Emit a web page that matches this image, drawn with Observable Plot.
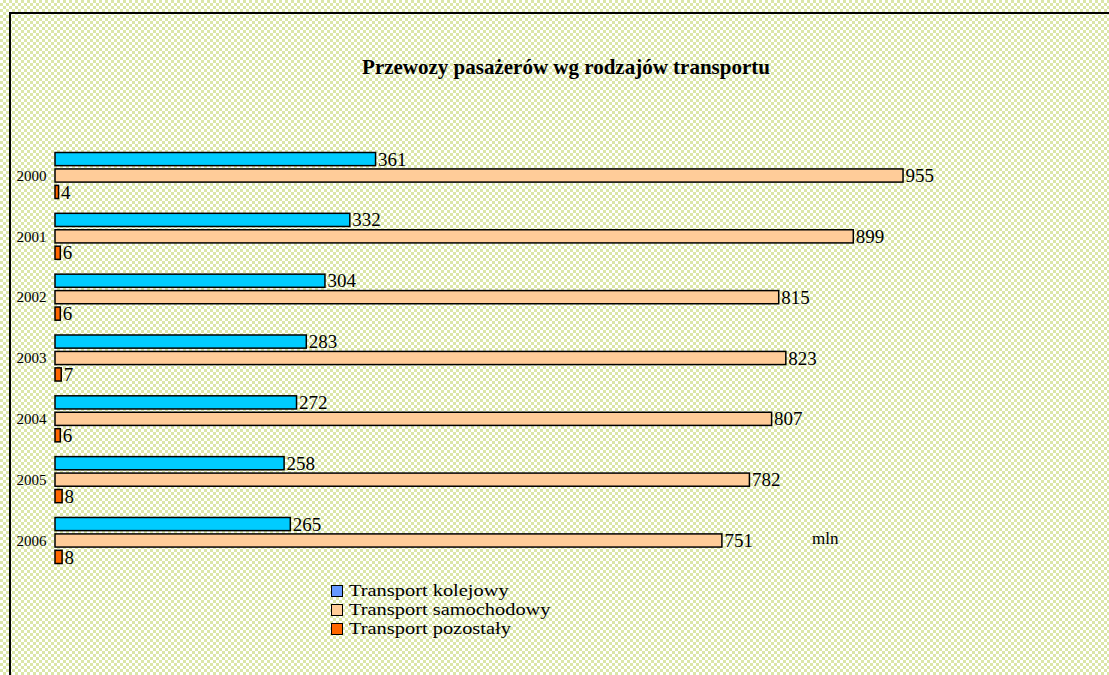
<!DOCTYPE html>
<html>
<head>
<meta charset="utf-8">
<script src="https://cdn.jsdelivr.net/npm/d3@7"></script>
<script src="https://cdn.jsdelivr.net/npm/@observablehq/plot@0.6"></script>
<style>
  html, body { margin: 0; padding: 0; }
  body {
    width: 1109px; height: 675px; overflow: hidden; position: relative;
    background-color: #ffffff;
    background-image: conic-gradient(#dbe6a8 25%, transparent 0 50%, #dbe6a8 0 75%, transparent 0);
    background-size: 6px 6px;
    font-family: "Liberation Serif", "Times New Roman", serif;
  }
  #frame { position: absolute; left: 9px; top: 12px; width: 1200px; height: 700px;
    border-top: 2px solid #000; border-left: 2px solid #000; }
  #title { position: absolute; left: 0; width: 1132px; top: 55px; text-align: center;
    font-weight: bold; font-size: 21px; color: #000; }
  #chart { position: absolute; left: 0; top: 0; }
  #unit { position: absolute; left: 812px; top: 529px; font-size: 17px; }
  #legend { position: absolute; left: 331px; top: 581px; font-size: 17px; line-height: 19.5px; }
  #legend .item { display: flex; align-items: center; white-space: nowrap; height: 19px; }
  #legend .sw { width: 10px; height: 10px; border: 1.5px solid #000; margin-right: 6px; flex: none; }
  #legend .lbl { display: inline-block; transform: scaleX(1.2); transform-origin: left center; }
</style>
</head>
<body>
<div id="frame"></div>
<div id="title"></div>
<div id="chart"></div>
<div id="unit"></div>
<div id="legend"></div>
<script>
const titleText = "Przewozy pasażerów wg rodzajów transportu";
const unitText = "mln";
const years = ["2000", "2001", "2002", "2003", "2004", "2005", "2006"];
const series = ["Transport kolejowy", "Transport samochodowy", "Transport pozostały"];
const kolejowy = [361, 332, 304, 283, 272, 258, 265];
const samochodowy = [955, 899, 815, 823, 807, 782, 751];
const pozostaly = [4, 6, 6, 7, 6, 8, 8];
const barColors = ["#00CCFF", "#FFCC99", "#FF6600"];
const legendColors = ["#6699FF", "#FFCC99", "#FF6600"];

const valuesBySeries = [kolejowy, samochodowy, pozostaly];
const data = [];
years.forEach((yr, i) => {
  series.forEach((s, j) => data.push({year: yr, series: s, value: valuesBySeries[j][i]}));
});
const yearRows = years.map(yr => ({year: yr, series: series[1]}));

document.getElementById("title").textContent = titleText;
document.getElementById("unit").textContent = unitText;

const chart = Plot.plot({
  width: 1109,
  height: 574,
  marginLeft: 55,
  marginRight: 166,
  marginTop: 152,
  marginBottom: 10,
  style: {background: "transparent", fontFamily: "'Liberation Serif', 'Times New Roman', serif", fontSize: "14px", color: "#000"},
  x: {domain: [0, 1000], axis: null},
  y: {domain: series, axis: null, paddingInner: 0.2, paddingOuter: 0.03, round: false},
  fy: {domain: years, paddingInner: 0.227, paddingOuter: 0, round: false, axis: null},
  color: {domain: series, range: barColors},
  marks: [
    Plot.barX(data, {fy: "year", y: "series", x: "value", fill: "series", stroke: "#000", strokeWidth: 1.5}),
    Plot.text(data, {fy: "year", y: "series", x: "value", text: d => String(d.value), textAnchor: "start", dx: 2, fontSize: 19, fill: "#000"}),
    Plot.text(yearRows, {fy: "year", y: "series", frameAnchor: "left", text: "year", textAnchor: "end", dx: -9, fontSize: 15, fill: "#000"})
  ]
});
document.getElementById("chart").appendChild(chart);

const legend = document.getElementById("legend");
series.forEach((s, j) => {
  const item = document.createElement("div");
  item.className = "item";
  const sw = document.createElement("span");
  sw.className = "sw";
  sw.style.background = legendColors[j];
  const label = document.createElement("span");
  label.className = "lbl";
  label.textContent = s;
  item.appendChild(sw);
  item.appendChild(label);
  legend.appendChild(item);
});
</script>
</body>
</html>
